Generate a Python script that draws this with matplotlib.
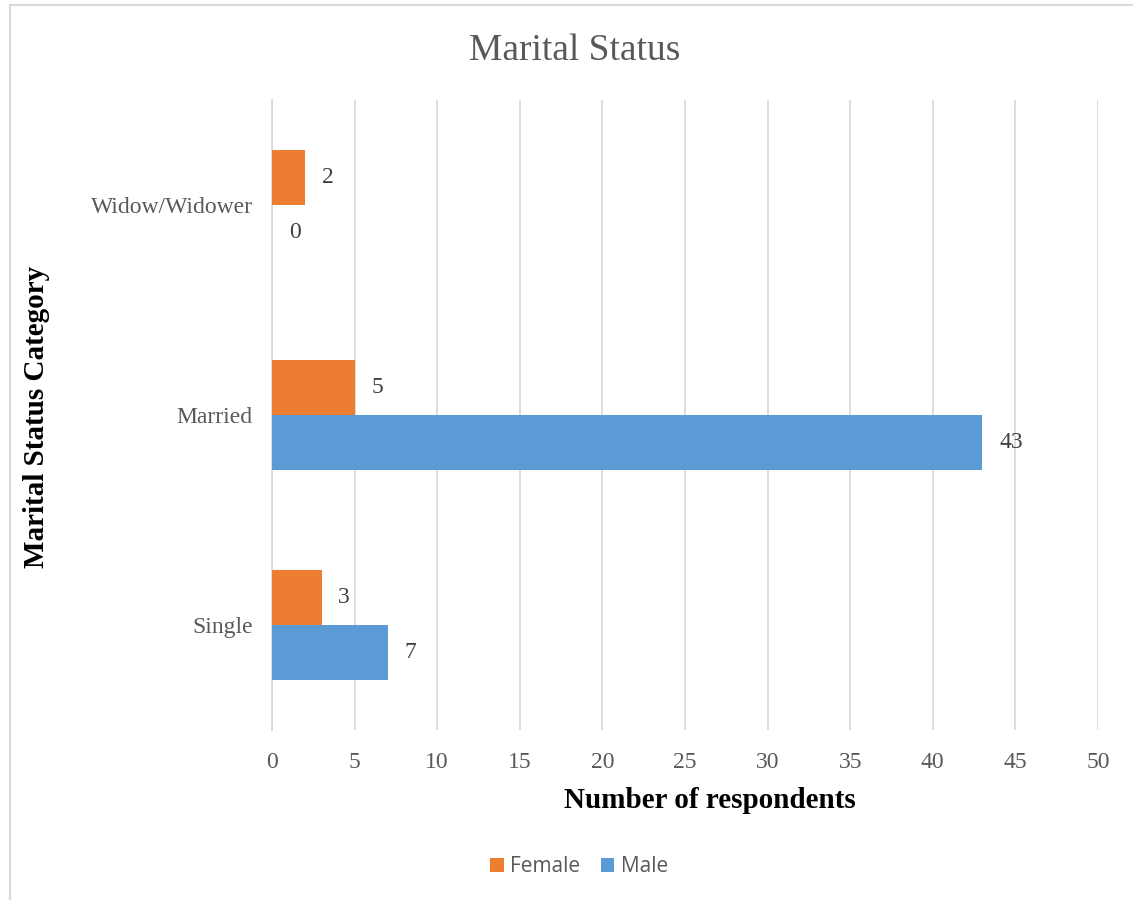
import matplotlib
matplotlib.use("Agg")
import matplotlib.pyplot as plt
from matplotlib.lines import Line2D
import numpy as np

categories = ["Single", "Married", "Widow/Widower"]
female = [3, 5, 2]
male = [7, 43, 0]
x_ticks = [0, 5, 10, 15, 20, 25, 30, 35, 40, 45, 50]

ORANGE = "#ED7D31"
BLUE = "#5B9BD5"
GRID = "#D9D9D9"
TEXT_GRAY = "#595959"
LABEL_GRAY = "#404040"
SERIF = "Liberation Serif"

W, H = 1133, 900
fig = plt.figure(figsize=(W / 100, H / 100), dpi=100)
ax = fig.add_axes([272 / W, 1 - 730 / H, (1098 - 272) / W, 630 / H])

y = np.arange(len(categories))
h = 0.262
ax.barh(y + h / 2, female, height=h, color=ORANGE, label="Female", zorder=3)
ax.barh(y - h / 2, male, height=h, color=BLUE, label="Male", zorder=3)

# value labels to the right of each bar
for yi, v in zip(y + h / 2, female):
    ax.annotate(str(v), (v, yi), xytext=(12, 0), textcoords="offset points",
                ha="left", va="center", fontsize=17, color=LABEL_GRAY, family=SERIF)
for yi, v in zip(y - h / 2, male):
    ax.annotate(str(v), (v, yi), xytext=(12, 0), textcoords="offset points",
                ha="left", va="center", fontsize=17, color=LABEL_GRAY, family=SERIF)

ax.set_xlim(0, 50)
ax.set_ylim(-0.5, len(categories) - 0.5)
ax.set_xticks(x_ticks)
ax.set_xticklabels([str(t) for t in x_ticks], family=SERIF, fontsize=17, color=TEXT_GRAY)
ax.set_yticks(y)
ax.set_yticklabels(categories, family=SERIF, fontsize=17, color=TEXT_GRAY)
ax.tick_params(axis="both", length=0)
ax.tick_params(axis="x", pad=16)
ax.tick_params(axis="y", pad=14)

ax.grid(axis="x", color=GRID, linewidth=1.3, zorder=0)
ax.set_axisbelow(True)
for side in ["top", "right", "bottom"]:
    ax.spines[side].set_visible(False)
ax.spines["left"].set_color(GRID)
ax.spines["left"].set_linewidth(1.3)

# axis titles
fig.text(710 / W, 1 - 801 / H, "Number of respondents", ha="center", va="center",
         family=SERIF, fontsize=21, fontweight="bold", color="black")
fig.text(37 / W, 1 - 417 / H, "Marital Status Category", ha="center", va="center",
         rotation=90, family=SERIF, fontsize=21, fontweight="bold", color="black")

fig.text(575 / W, 1 - 51 / H, "Marital Status", ha="center", va="center",
         family=SERIF, fontsize=27, color=TEXT_GRAY)

leg = fig.legend(loc="center", bbox_to_anchor=(579 / W, 1 - 867 / H), ncol=2,
                 frameon=False, prop={"family": "Open Sans", "size": 15},
                 handlelength=0.65, handleheight=0.65, handletextpad=0.3, columnspacing=1.0)
for t in leg.get_texts():
    t.set_color(TEXT_GRAY)

# outer chart border (top and left edges)
fig.add_artist(Line2D([9.5 / W, 1], [1 - 4.5 / H, 1 - 4.5 / H],
                      transform=fig.transFigure, color=GRID, linewidth=1.5))
fig.add_artist(Line2D([9.5 / W, 9.5 / W], [0, 1 - 4.5 / H],
                      transform=fig.transFigure, color=GRID, linewidth=1.5))

fig.savefig("out.png", dpi=100, facecolor="white")
